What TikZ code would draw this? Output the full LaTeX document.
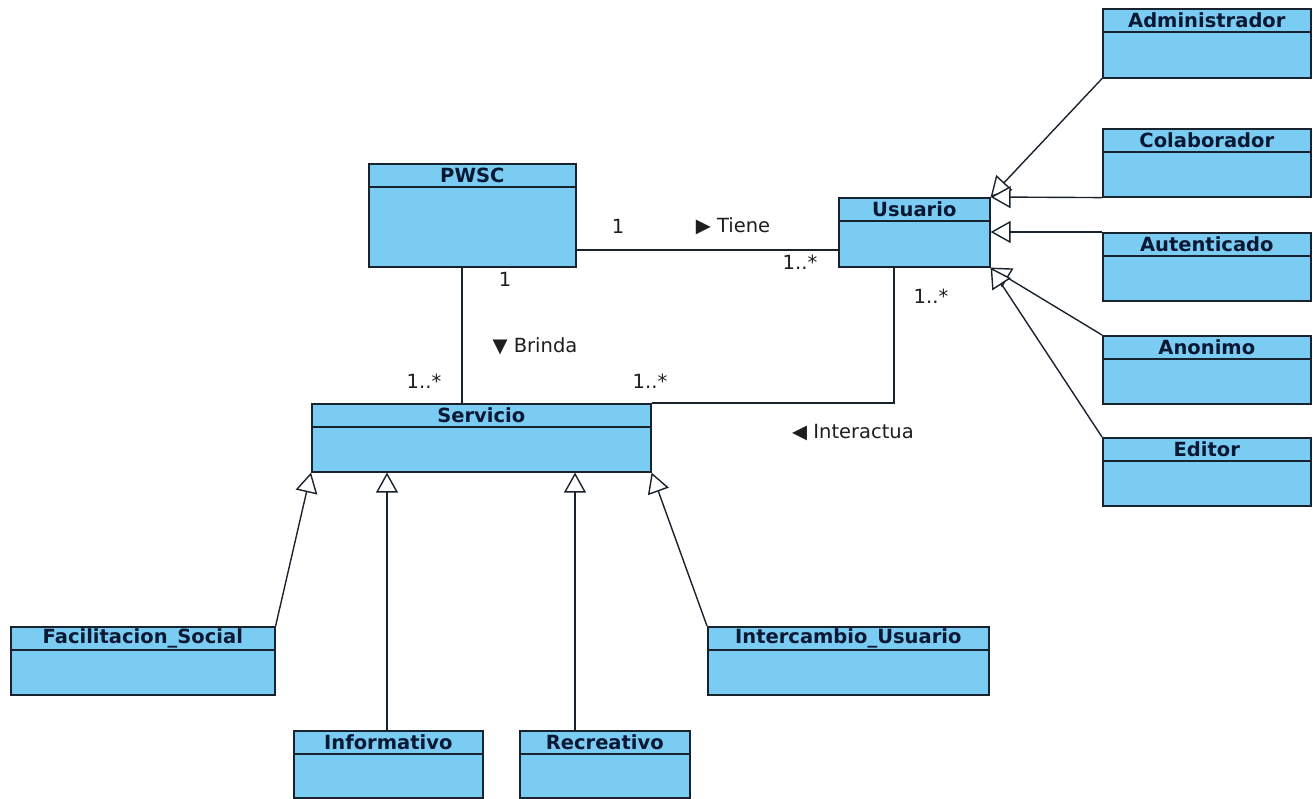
\documentclass[tikz,border=0pt]{standalone}
\usepackage{fontspec}
\setmainfont{DejaVu Sans}
\usetikzlibrary{arrows.meta}
\definecolor{boxfill}{RGB}{122,204,242}
\definecolor{boxline}{RGB}{25,35,45}
\definecolor{titlecol}{RGB}{10,24,52}
\definecolor{labcol}{RGB}{30,30,30}
\tikzset{
  cls/.style={draw=boxline, line width=1.6pt, fill=boxfill, inner sep=0pt, anchor=north west},
  ttl/.style={font=\fontsize{19.5}{21}\selectfont\bfseries, text=titlecol, inner sep=0pt},
  gen/.style={draw=boxline, line width=1.4pt, -{Triangle[open,length=20pt,width=22pt,fill=white]}},
  assoc/.style={draw=boxline, line width=1.4pt},
  lab/.style={font=\fontsize{19.5}{21}\selectfont, text=labcol, inner sep=0pt}
}
\newcommand{\umlcls}[6]{%
  \node[cls, minimum width=#4pt-#2pt, minimum height=#5pt-#3pt] (#1) at (#2,#3) {};
  \draw[draw=boxline, line width=1.4pt] ([yshift=-24pt]#1.north west) -- ([yshift=-24pt]#1.north east);
  \node[ttl] (#1-t) at ([yshift=-12.5pt]#1.north) {#6};
}
\begin{document}
\begin{tikzpicture}[x=1pt,y=-1pt]
\useasboundingbox[fill=white] (0,0) rectangle (1313,799);
% classes
\umlcls{pwsc}{368}{163}{575}{266}{PWSC}
\umlcls{usr}{838}{197}{989}{266}{Usuario}
\umlcls{adm}{1102}{8}{1310}{77}{Administrador}
\umlcls{col}{1102}{128}{1310}{196}{Colaborador}
\umlcls{aut}{1102}{232}{1310}{300}{Autenticado}
\umlcls{ano}{1102}{335}{1310}{403}{Anonimo}
\umlcls{edi}{1102}{437}{1310}{505}{Editor}
\umlcls{srv}{311}{403}{650}{471}{Servicio}
\umlcls{fac}{10}{626}{274}{694}{Facilitacion\_Social}
\umlcls{inf}{293}{730}{482}{797}{Informativo}
\umlcls{rec}{519}{730}{689}{797}{Recreativo}
\umlcls{int}{707}{626}{988}{694}{Intercambio\_Usuario}
% associations
\draw[assoc] (pwsc.east |- 0,250) -- (usr.west |- 0,250);
\draw[assoc] (pwsc.south -| 462,0) -- (srv.north -| 462,0);
\draw[assoc] (usr.south -| 894,0) -- (894,403) -- (srv.north east);
% labels
\node[lab] (l1) at (618,226) {1};
\node[lab] (l2) at (733,226) {▶ Tiene};
\node[lab] (l3) at (800,262) {1..*};
\node[lab] (l4) at (505,279) {1};
\node[lab] (l5) at (535,346) {▼ Brinda};
\node[lab] (l6) at (424,381) {1..*};
\node[lab] (l7) at (931,296) {1..*};
\node[lab] (l8) at (650,381) {1..*};
\node[lab] (l9) at (853,433) {◀ Interactua};
% generalizations to Usuario
\draw[gen] (adm.south west) -- (usr.north east);
\draw[gen] (col.south west) -- (usr.north east);
\draw[gen] (aut.north west) -- (aut.north west -| usr.east);
\draw[gen] (ano.north west) -- (usr.south east);
\draw[gen] (edi.north west) -- (usr.south east);
% generalizations to Servicio
\draw[gen] (fac.north east) -- (srv.south west);
\draw[gen] (inf.north -| 387,0) -- (srv.south -| 387,0);
\draw[gen] (rec.north -| 575,0) -- (srv.south -| 575,0);
\draw[gen] (int.north west) -- (srv.south east);
\end{tikzpicture}
\end{document}
